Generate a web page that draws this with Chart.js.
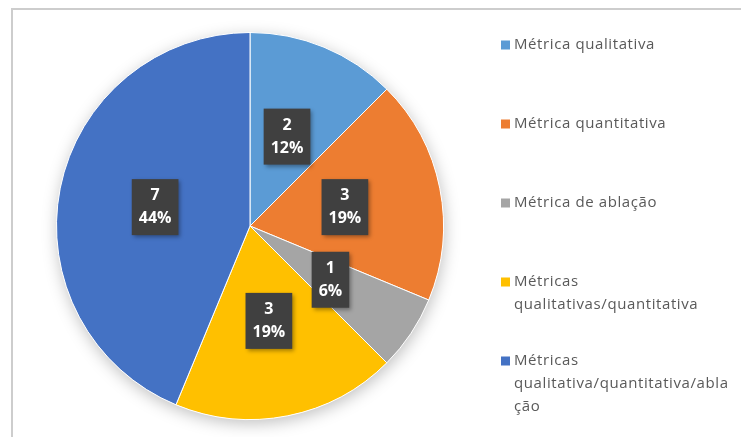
<!DOCTYPE html>
<html>
<head>
<meta charset="utf-8">
<script src="https://cdn.jsdelivr.net/npm/chart.js@4.4.0/dist/chart.umd.min.js"></script>
<style>
  html, body { margin: 0; padding: 0; background: #fff; overflow: hidden; }
  #wrap { position: relative; width: 741px; height: 437px; }
  #frame { position: absolute; left: 11px; top: 8px; width: 780px; height: 480px; border: 2px solid #cdcdcd; box-sizing: border-box; }
  #pie { position: absolute; left: 0; top: 0; }
</style>
</head>
<body>
<div id="wrap">
  <div id="frame"></div>
  <canvas id="pie" width="741" height="437"></canvas>
</div>
<script>
// categories (multi-line ones are wrapped like the original legend)
const categories = [
  'Métrica qualitativa',
  'Métrica quantitativa',
  'Métrica de ablação',
  ['Métricas', 'qualitativas/quantitativa'],
  ['Métricas', 'qualitativa/quantitativa/abla', 'ção']
];
const counts = [2, 3, 1, 3, 7];
const percents = [12, 19, 6, 19, 44];
const colors = ['#5B9BD5', '#ED7D31', '#A5A5A5', '#FFC000', '#4472C4'];

/* soft shadow under the whole pie */
const pieShadow = {
  id: 'pieShadow',
  beforeDatasetsDraw(chart) {
    const arc = chart.getDatasetMeta(0).data[0];
    if (!arc) return;
    const { x, y, outerRadius } = arc.getProps(['x', 'y', 'outerRadius']);
    const ctx = chart.ctx;
    ctx.save();
    ctx.shadowColor = 'rgba(0,0,0,0.25)';
    ctx.shadowBlur = 16;
    ctx.shadowOffsetX = 1;
    ctx.shadowOffsetY = 4;
    ctx.fillStyle = '#fff';
    ctx.beginPath();
    ctx.arc(x, y, outerRadius, 0, Math.PI * 2);
    ctx.fill();
    ctx.restore();
  }
};

/* dark callout boxes: count + percent */
const sliceLabels = {
  id: 'sliceLabels',
  afterDatasetsDraw(chart) {
    const ctx = chart.ctx;
    const meta = chart.getDatasetMeta(0);
    ctx.save();
    ctx.font = 'bold 16px "Open Sans"';
    ctx.textAlign = 'center';
    ctx.textBaseline = 'middle';
    meta.data.forEach((arc, i) => {
      const { x, y } = arc.tooltipPosition();
      const lines = [String(counts[i]), percents[i] + '%'];
      const w = Math.max(...lines.map(t => ctx.measureText(t).width)) + 14;
      const h = 56;
      ctx.save();
      ctx.shadowColor = 'rgba(0,0,0,0.35)';
      ctx.shadowBlur = 4;
      ctx.shadowOffsetX = 2;
      ctx.shadowOffsetY = 2;
      ctx.fillStyle = '#404040';
      ctx.fillRect(x - w / 2, y - h / 2, w, h);
      ctx.restore();
      ctx.fillStyle = '#fff';
      ctx.fillText(lines[0], x, y - 11.5);
      ctx.fillText(lines[1], x, y + 11.5);
    });
    ctx.restore();
  }
};

/* legend on the right, spaced like the original */
const sideLegend = {
  id: 'sideLegend',
  afterDraw(chart) {
    const ctx = chart.ctx;
    const left = 501, firstY = 45, pitch = 79, lineH = 23;
    ctx.save();
    ctx.font = '15px "Open Sans"';
    ctx.letterSpacing = '0.6px';
    ctx.textBaseline = 'middle';
    categories.forEach((lab, i) => {
      const lines = Array.isArray(lab) ? lab : [lab];
      const cy = firstY + i * pitch;
      ctx.fillStyle = colors[i];
      ctx.fillRect(left, cy - 4.5, 9, 9);
      ctx.fillStyle = '#595959';
      lines.forEach((t, j) => ctx.fillText(t, left + 13, cy + j * lineH));
    });
    ctx.restore();
  }
};

new Chart(document.getElementById('pie'), {
  type: 'pie',
  data: {
    labels: categories.map(c => Array.isArray(c) ? c.join(' ') : c),
    datasets: [{
      data: counts,
      backgroundColor: colors,
      borderColor: '#fff',
      borderWidth: 1
    }]
  },
  options: {
    responsive: false,
    animation: false,
    layout: { padding: { left: 56, right: 297, top: 32, bottom: 17 } },
    plugins: {
      legend: { display: false },
      tooltip: { enabled: false }
    }
  },
  plugins: [pieShadow, sliceLabels, sideLegend]
});
</script>
</body>
</html>
